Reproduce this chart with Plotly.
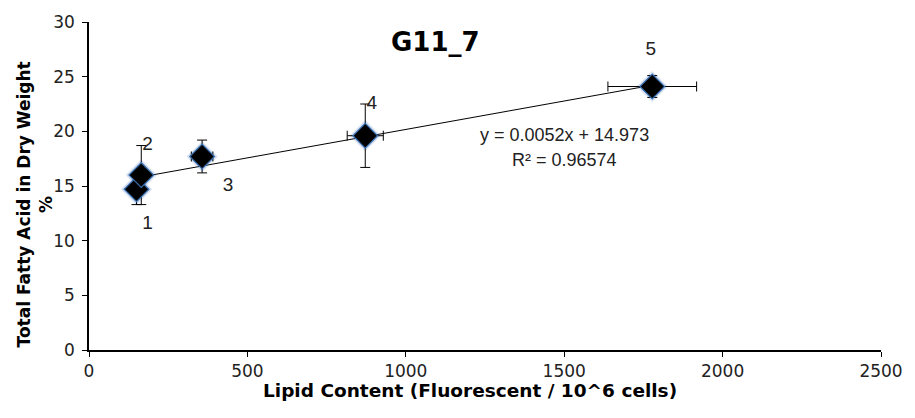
import plotly.graph_objects as go

# Data
lipid = [150, 165, 357, 872, 1778]
tfa = [14.7, 16.0, 17.7, 19.6, 24.1]
lipid_err = [8, 8, 34, 57, 140]
tfa_err = [1.4, 2.7, 1.5, 2.9, 1.0]
point_labels = ["1", "2", "3", "4", "5"]
label_x = [185, 185, 439, 893, 1773]
label_y = [11.5, 18.7, 15.0, 22.5, 27.4]
slope = 0.0052
intercept = 14.973
r2 = 0.96574
x_ticks = [0, 500, 1000, 1500, 2000, 2500]
y_ticks = [0, 5, 10, 15, 20, 25, 30]

FONT = "Liberation Sans, Arial"
WIDE = "DejaVu Sans"

fig = go.Figure()

# trendline over data range
x0, x1 = min(lipid), max(lipid)
fig.add_trace(go.Scatter(
    x=[x0, x1], y=[slope * x0 + intercept, slope * x1 + intercept],
    mode="lines", line=dict(color="black", width=1), hoverinfo="skip", showlegend=False))

# glow layer
fig.add_trace(go.Scatter(
    x=lipid, y=tfa, mode="markers",
    marker=dict(symbol="diamond", size=24, color="rgba(70,120,190,0.22)", line=dict(width=0)),
    hoverinfo="skip", showlegend=False))

fig.add_trace(go.Scatter(
    x=lipid, y=tfa, mode="markers",
    marker=dict(symbol="diamond", size=19, color="black",
                line=dict(color="#3a6fb0", width=1.2)),
    error_x=dict(type="data", array=lipid_err, color="black", thickness=1, width=5),
    error_y=dict(type="data", array=tfa_err, color="black", thickness=1, width=5),
    showlegend=False))

fig.add_trace(go.Scatter(
    x=label_x, y=label_y, mode="text", text=point_labels,
    textfont=dict(family=FONT, size=19, color="#222"),
    hoverinfo="skip", showlegend=False))

fig.add_annotation(
    x=1500, y=19.7, xref="x", yref="y",
    text=f"y = {slope}x + {intercept}", showarrow=False,
    font=dict(family=FONT, size=18, color="#222"))
fig.add_annotation(
    x=1500, y=17.35, xref="x", yref="y",
    text=f"R² = {r2}", showarrow=False,
    font=dict(family=FONT, size=18, color="#222"))

# title and axis titles
fig.add_annotation(
    x=0.437, y=0.940, xref="paper", yref="paper", xanchor="center", yanchor="middle",
    text="<b>G11_7</b>", showarrow=False,
    font=dict(family=WIDE, size=26, color="black"))
fig.add_annotation(
    x=0.481, y=-0.124, xref="paper", yref="paper", xanchor="center", yanchor="middle",
    text="<b>Lipid Content (Fluorescent / 10^6 cells)</b>", showarrow=False,
    font=dict(family=WIDE, size=18.5, color="black"))
fig.add_annotation(
    x=-0.0677, y=0.445, xref="paper", yref="paper", xanchor="center", yanchor="middle",
    text="<b>Total Fatty Acid in Dry Weight<br>%</b>", showarrow=False, textangle=-90,
    font=dict(family=WIDE, size=17, color="black"))

fig.update_layout(
    width=915, height=418,
    margin=dict(l=89, r=27, t=15, b=68),
    paper_bgcolor="white", plot_bgcolor="white",
    font=dict(family=WIDE, size=17, color="#222"),
)

fig.update_xaxes(
    range=[0, 2500], tickvals=x_ticks, showgrid=False, zeroline=False,
    showline=True, linecolor="black", linewidth=1.5,
    ticks="outside", ticklen=5, tickcolor="black",
    tickfont=dict(family=WIDE, size=17, color="#222"))

fig.update_yaxes(
    range=[0, 30], tickvals=y_ticks, showgrid=False, zeroline=False,
    showline=True, linecolor="black", linewidth=1.5,
    ticks="outside", ticklen=5, tickcolor="black", ticklabelstandoff=4,
    tickfont=dict(family=WIDE, size=17, color="#222"))

fig.write_html("out.html")
